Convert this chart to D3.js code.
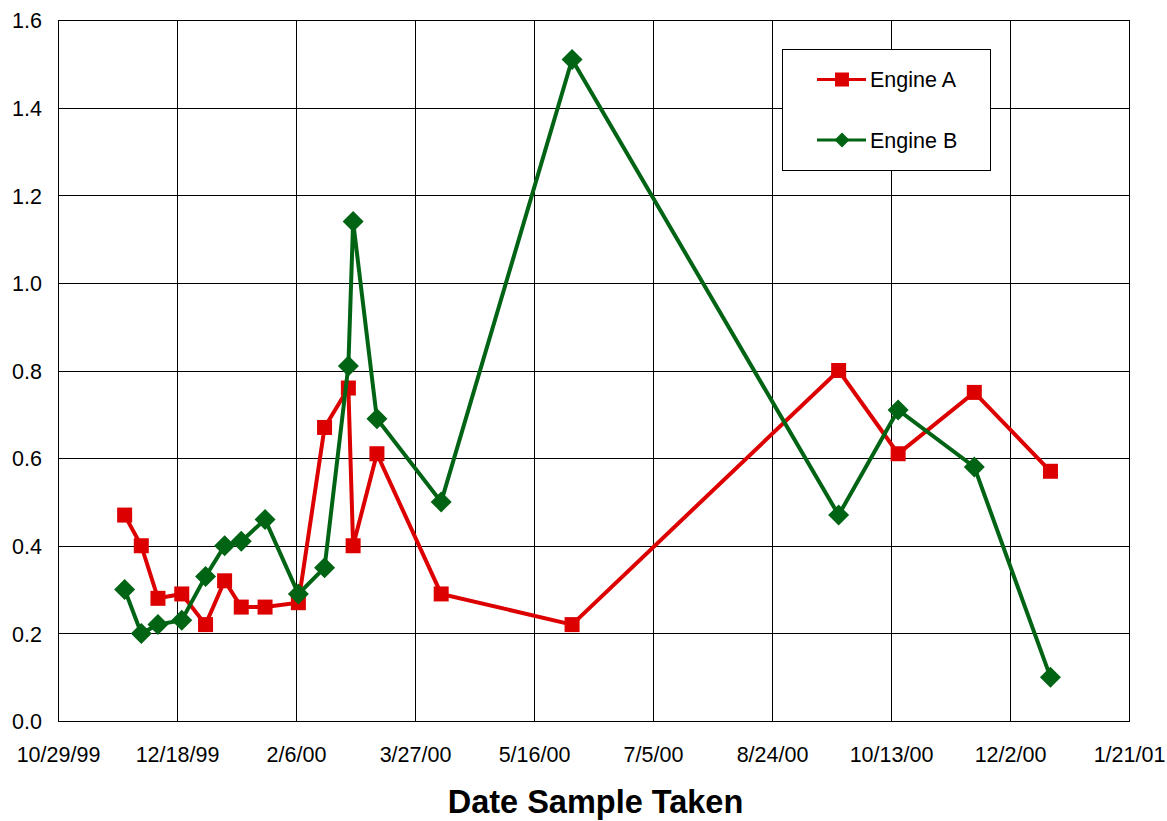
<!DOCTYPE html>
<html>
<head>
<meta charset="utf-8">
<script src="https://cdn.jsdelivr.net/npm/d3@7"></script>
<style>
  html, body { margin: 0; padding: 0; background: #fff; }
  svg { display: block; }
  text { font-family: "Liberation Sans", Arial, sans-serif; fill: #000; }
</style>
</head>
<body>
<svg id="chart" width="1167" height="821"></svg>
<script>
// ---- data ----
const sampleDates = ["11/26/99","12/3/99","12/10/99","12/20/99","12/30/99","1/7/00","1/14/00","1/24/00",
  "2/7/00","2/18/00","2/28/00","3/1/00","3/11/00","4/7/00","6/1/00","9/21/00","10/16/00","11/17/00","12/19/00"];
const engineA = [0.47,0.40,0.28,0.29,0.22,0.32,0.26,0.26,0.27,0.67,0.76,0.40,0.61,0.29,0.22,0.80,0.61,0.75,0.57];
const engineB = [0.30,0.20,0.22,0.23,0.33,0.40,0.41,0.46,0.29,0.35,0.81,1.14,0.69,0.50,1.51,0.47,0.71,0.58,0.10];
const seriesNames = ["Engine A","Engine B"];
const xTickLabels = ["10/29/99","12/18/99","2/6/00","3/27/00","5/16/00","7/5/00","8/24/00","10/13/00","12/2/00","1/21/01"];
const yTicks = [0,0.2,0.4,0.6,0.8,1.0,1.2,1.4,1.6];
const xTitle = "Date Sample Taken";

// ---- layout ----
const parse = d3.utcParse("%m/%d/%y");
const L = 58, R = 1129, T = 20, B = 721;
const svg = d3.select("#chart");

const x = d3.scaleUtc()
  .domain([parse(xTickLabels[0]), parse(xTickLabels[xTickLabels.length - 1])])
  .range([L, R]);
const y = d3.scaleLinear().domain([0, 1.6]).range([B, T]);

const colors = { "Engine A": "#dd0000", "Engine B": "#006414" };

// gridlines
const grid = svg.append("g").attr("shape-rendering", "crispEdges");
grid.selectAll("line.h").data(yTicks).join("line")
  .attr("x1", L).attr("x2", R)
  .attr("y1", d => Math.round(y(d)) + 0.5).attr("y2", d => Math.round(y(d)) + 0.5)
  .attr("stroke", "#000").attr("stroke-width", 1);
grid.selectAll("line.v").data(xTickLabels).join("line")
  .attr("y1", T).attr("y2", B)
  .attr("x1", d => Math.round(x(parse(d))) + 0.5).attr("x2", d => Math.round(x(parse(d))) + 0.5)
  .attr("stroke", "#000").attr("stroke-width", 1);
grid.append("rect")
  .attr("x", L + 0.5).attr("y", T + 0.5).attr("width", R - L).attr("height", B - T)
  .attr("fill", "none").attr("stroke", "#000");

// axes (labels only)
const xAxis = d3.axisBottom(x)
  .tickValues(xTickLabels.map(parse))
  .tickFormat((d, i) => xTickLabels[i])
  .tickSize(0).tickPadding(0);
const gx = svg.append("g").attr("transform", `translate(0,${B})`).call(xAxis);
gx.select(".domain").remove();
gx.selectAll("text").attr("font-size", 21.5).attr("dy", null).attr("y", 40.5)
  .attr("font-family", "Liberation Sans, Arial, sans-serif").attr("fill", "#000");

const yAxis = d3.axisLeft(y).tickValues(yTicks).tickFormat(d3.format(".1f")).tickSize(0).tickPadding(0);
const gy = svg.append("g").attr("transform", `translate(${L - 16},0)`).call(yAxis);
gy.select(".domain").remove();
gy.selectAll("text").attr("font-size", 21.5).attr("dy", "0.36em")
  .attr("font-family", "Liberation Sans, Arial, sans-serif").attr("fill", "#000");

// axis title
svg.append("text")
  .attr("x", (L + R) / 2 + 2).attr("y", 813)
  .attr("text-anchor", "middle")
  .attr("font-size", 32.5).attr("font-weight", "bold")
  .text(xTitle);

// series
const series = [
  { name: seriesNames[0], values: engineA, shape: "square" },
  { name: seriesNames[1], values: engineB, shape: "diamond" }
];
const line = d3.line().x(d => x(d.date)).y(d => y(d.v));

series.forEach(s => {
  const pts = sampleDates.map((d, i) => ({ date: parse(d), v: s.values[i] }));
  const g = svg.append("g");
  g.append("path").datum(pts)
    .attr("d", line)
    .attr("fill", "none")
    .attr("stroke", colors[s.name])
    .attr("stroke-width", 4)
    .attr("stroke-linejoin", "miter");
  if (s.shape === "square") {
    g.selectAll("rect").data(pts).join("rect")
      .attr("x", d => x(d.date) - 7.5).attr("y", d => y(d.v) - 7.5)
      .attr("width", 15).attr("height", 15)
      .attr("fill", colors[s.name]);
  } else {
    const r = 10.5;
    g.selectAll("path.m").data(pts).join("path")
      .attr("class", "m")
      .attr("transform", d => `translate(${x(d.date)},${y(d.v)})`)
      .attr("d", `M0,${-r}L${r},0L0,${r}L${-r},0Z`)
      .attr("fill", colors[s.name]);
  }
});

// legend
const lg = svg.append("g");
lg.append("rect")
  .attr("x", 782.5).attr("y", 49.5).attr("width", 208).attr("height", 121)
  .attr("fill", "#fff").attr("stroke", "#000").attr("stroke-width", 1)
  .attr("shape-rendering", "crispEdges");
const legendY = [79.5, 140];
series.forEach((s, i) => {
  const yy = legendY[i];
  lg.append("line").attr("x1", 817).attr("x2", 866).attr("y1", yy).attr("y2", yy)
    .attr("stroke", colors[s.name]).attr("stroke-width", 3);
  if (s.shape === "square") {
    lg.append("rect").attr("x", 842 - 7).attr("y", yy - 7).attr("width", 14).attr("height", 14)
      .attr("fill", colors[s.name]);
  } else {
    const r = 7.5;
    lg.append("path").attr("d", `M${842},${yy - r}L${842 + r},${yy}L${842},${yy + r}L${842 - r},${yy}Z`)
      .attr("fill", colors[s.name]);
  }
  lg.append("text").attr("x", 870).attr("y", yy).attr("dy", "0.36em")
    .attr("font-size", 21.5).text(s.name);
});
</script>
</body>
</html>
